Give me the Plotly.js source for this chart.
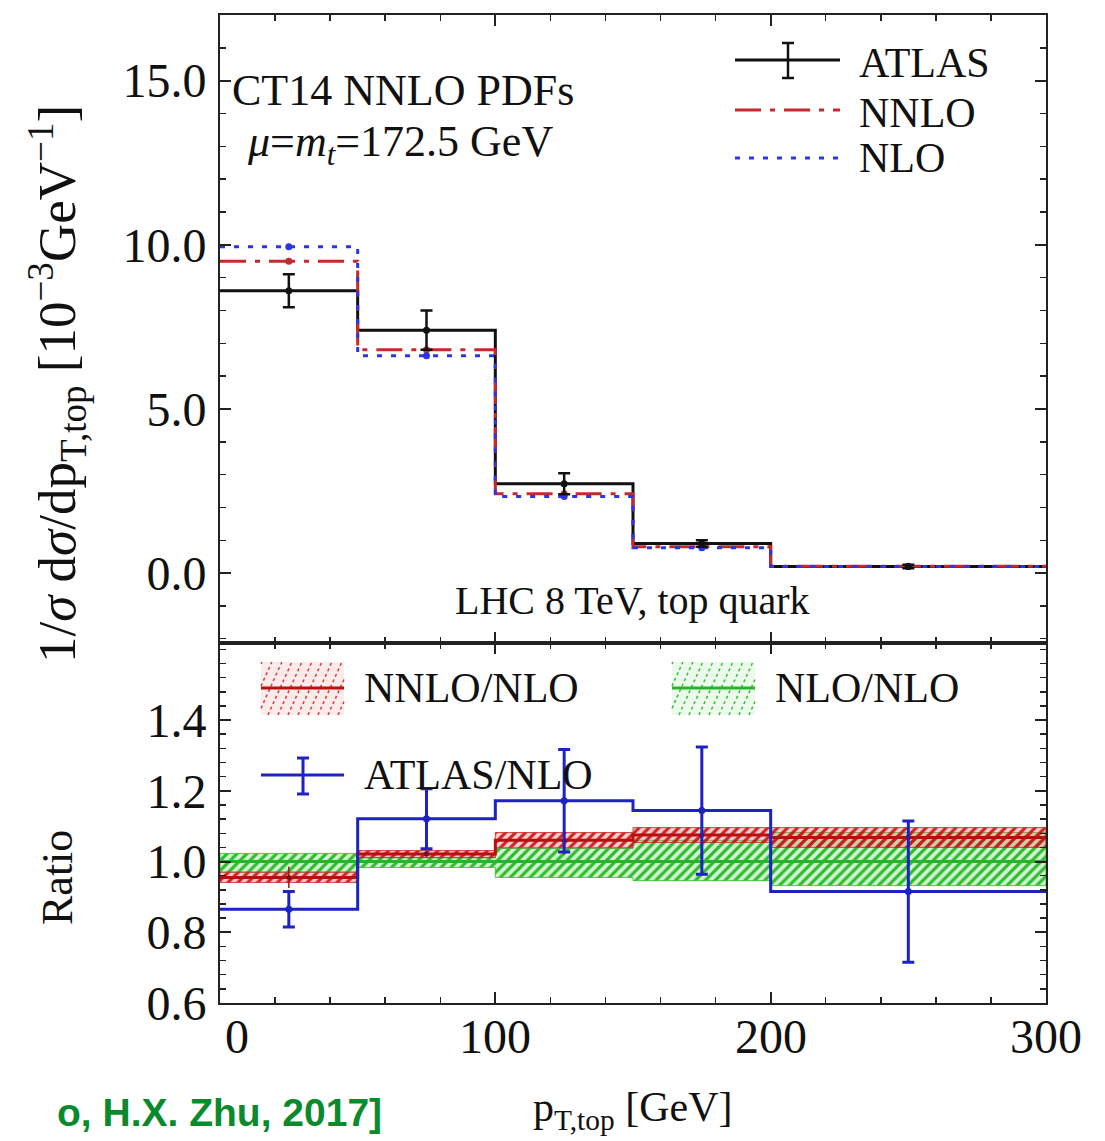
<!DOCTYPE html>
<html>
<head>
<meta charset="utf-8">
<script src="https://cdn.plot.ly/plotly-3.0.1.min.js"></script>
<style>html,body{margin:0;padding:0;background:#fff}#chart{width:1105px;height:1141px}</style>
</head>
<body>
<div id="chart"></div>
<script>
// ---- data ----
const binEdges = [0, 50, 100, 150, 200, 300];
const binMids = [25, 75, 125, 175, 250];
const atlas = [8.6, 7.4, 2.72, 0.9, 0.2];
const atlasErr = [0.5, 0.6, 0.32, 0.1, 0.05];
const nnlo = [9.5, 6.8, 2.42, 0.8, 0.21];
const nlo = [9.94, 6.62, 2.33, 0.77, 0.2];

const ratioNNLO = [0.955, 1.021, 1.06, 1.075, 1.068];
const ratioNNLOErr = [0.03, 0.01, 0.04, 0.015, 0.02];
const ratioNNLOLo = [0.941, 1.011, 1.039, 1.054, 1.04];
const ratioNNLOHi = [0.970, 1.031, 1.082, 1.096, 1.096];
const ratioNLO = [1.0, 1.0, 1.0, 1.0, 1.0];
const ratioNLOLo = [0.970, 0.983, 0.955, 0.946, 0.932];
const ratioNLOHi = [1.023, 1.011, 1.037, 1.060, 1.082];
const ratioATLAS = [0.865, 1.121, 1.172, 1.144, 0.915];
const ratioATLASErr = [0.05, 0.085, 0.145, 0.18, 0.2];

const yTicksTop = [0, 5, 10, 15];
const yTicksRatio = [0.6, 0.8, 1.0, 1.2, 1.4];
const xTicks = [0, 100, 200, 300];
const xTickText = ['0', '100', '200', '300'];

// ---- helpers ----
function stepY(v) { return v.concat([v[v.length - 1]]); }
function bandPoly(lo, hi) {
  const xs = [], ys = [];
  for (let i = 0; i < hi.length; i++) { xs.push(binEdges[i], binEdges[i + 1]); ys.push(hi[i], hi[i]); }
  for (let i = lo.length - 1; i >= 0; i--) { xs.push(binEdges[i + 1], binEdges[i]); ys.push(lo[i], lo[i]); }
  xs.push(xs[0]); ys.push(ys[0]);
  return {x: xs, y: ys};
}
// pixel -> paper (plot area: x 220..1046, y 15..1003)
const L = 220, R = 1046, T = 15, B = 1003;
function px(x) { return (x - L) / (R - L); }
function py(y) { return (B - y) / (B - T); }

const serif = 'Liberation Serif, Times New Roman, serif';
const RED = '#c8282d', BLUE = '#2a35e8', BLK = '#111111';
const DRED = '#b80f0f', GREEN = '#28b428', ABLUE = '#1c22c4';

const nnloBand = bandPoly(ratioNNLOLo, ratioNNLOHi);
const nloBand = bandPoly(ratioNLOLo, ratioNLOHi);

const traces = [
  // ---- top panel ----
  {x: binEdges, y: stepY(atlas), xaxis: 'x2', yaxis: 'y2', mode: 'lines',
   line: {shape: 'hv', color: BLK, width: 3}, hoverinfo: 'skip'},
  {x: binEdges, y: stepY(nnlo), xaxis: 'x2', yaxis: 'y2', mode: 'lines',
   line: {shape: 'hv', color: RED, width: 3, dash: '26px,9px,5px,9px'}, hoverinfo: 'skip'},
  {x: binEdges, y: stepY(nlo), xaxis: 'x2', yaxis: 'y2', mode: 'lines',
   line: {shape: 'hv', color: BLUE, width: 3, dash: '5px,9px'}, hoverinfo: 'skip'},
  {x: binMids, y: nnlo, xaxis: 'x2', yaxis: 'y2', mode: 'markers',
   marker: {color: RED, size: 7}},
  {x: binMids, y: nlo, xaxis: 'x2', yaxis: 'y2', mode: 'markers',
   marker: {color: BLUE, size: 7}},
  {x: binMids, y: atlas, xaxis: 'x2', yaxis: 'y2', mode: 'markers',
   marker: {color: BLK, size: 7},
   error_y: {type: 'data', array: atlasErr, color: BLK, thickness: 2.5, width: 6}},
  // ---- ratio panel ----
  {x: nloBand.x, y: nloBand.y, xaxis: 'x', yaxis: 'y', mode: 'lines', fill: 'toself',
   line: {color: 'rgba(40,190,40,0.8)', width: 1},
   fillcolor: 'rgba(60,200,60,0.35)',
   fillpattern: {shape: '/', fgcolor: 'rgba(30,180,30,0.9)', bgcolor: 'rgba(120,220,120,0.35)', size: 7, solidity: 0.45},
   hoverinfo: 'skip'},
  {x: nnloBand.x, y: nnloBand.y, xaxis: 'x', yaxis: 'y', mode: 'lines', fill: 'toself',
   line: {color: 'rgba(200,30,30,0.8)', width: 1},
   fillcolor: 'rgba(210,40,40,0.35)',
   fillpattern: {shape: '/', fgcolor: 'rgba(200,20,20,0.9)', bgcolor: 'rgba(230,110,110,0.35)', size: 7, solidity: 0.45},
   hoverinfo: 'skip'},
  {x: binEdges, y: stepY(ratioNLO), xaxis: 'x', yaxis: 'y', mode: 'lines',
   line: {shape: 'hv', color: GREEN, width: 3}, hoverinfo: 'skip'},
  {x: binEdges, y: stepY(ratioNNLO), xaxis: 'x', yaxis: 'y', mode: 'lines',
   line: {shape: 'hv', color: DRED, width: 3}, hoverinfo: 'skip'},
  {x: binMids, y: ratioNNLO, xaxis: 'x', yaxis: 'y', mode: 'markers',
   marker: {color: '#7a1010', size: 5},
   error_y: {type: 'data', array: ratioNNLOErr, color: '#a01515', thickness: 1.5, width: 0}},
  {x: binEdges, y: stepY(ratioATLAS), xaxis: 'x', yaxis: 'y', mode: 'lines',
   line: {shape: 'hv', color: ABLUE, width: 3}, hoverinfo: 'skip'},
  {x: binMids, y: ratioATLAS, xaxis: 'x', yaxis: 'y', mode: 'markers',
   marker: {color: ABLUE, size: 7},
   error_y: {type: 'data', array: ratioATLASErr, color: ABLUE, thickness: 3, width: 6}}
];

const axisCommon = {
  showline: true, linecolor: '#222', linewidth: 2, mirror: 'ticks',
  ticks: 'inside', ticklen: 11, tickwidth: 2, tickcolor: '#222',
  showgrid: false, zeroline: false,
  tickfont: {family: serif, size: 48, color: '#111'}
};

const shapes = [];
const annotations = [];
function hline(x0, x1, y, color, width, dash) {
  shapes.push({type: 'line', xref: 'paper', yref: 'paper', x0: px(x0), x1: px(x1), y0: py(y), y1: py(y),
    line: {color: color, width: width, dash: dash || 'solid'}});
}
function vline(x, y0, y1, color, width) {
  shapes.push({type: 'line', xref: 'paper', yref: 'paper', x0: px(x), x1: px(x), y0: py(y0), y1: py(y1),
    line: {color: color, width: width}});
}
function text(str, x, y, size, xanchor, opts) {
  annotations.push(Object.assign({text: str, xref: 'paper', yref: 'paper', x: px(x), y: py(y),
    xanchor: xanchor || 'left', yanchor: 'middle', showarrow: false,
    font: {family: serif, size: size, color: '#111'}}, opts || {}));
}
function hatchPatch(x0, x1, y0, y1, color, bg) {
  shapes.push({type: 'rect', xref: 'paper', yref: 'paper', x0: px(x0), x1: px(x1), y0: py(y0), y1: py(y1),
    fillcolor: bg, line: {width: 0}});
  const h = y1 - y0;
  for (let s = x0 - h; s < x1; s += 10) {
    let ax = s, ay = y1, bx = s + h * 0.45, by = y0;
    if (ax < x0) { ay = y1 - (x0 - ax) / 0.45; ax = x0; }
    if (bx > x1) { by = y0 + (bx - x1) / 0.45; bx = x1; }
    if (ay <= y0 || by >= y1) continue;
    shapes.push({type: 'line', xref: 'paper', yref: 'paper', x0: px(ax), y0: py(ay), x1: px(bx), y1: py(by),
      line: {color: color, width: 1.5, dash: '3px,3px'}});
  }
}

// x tick labels (placed on the x axis scale; the first one nudged right as in the original)
xTicks.forEach(function (v, i) {
  annotations.push({text: xTickText[i], xref: 'x', yref: 'paper', x: v, y: py(1036),
    xanchor: 'center', yanchor: 'middle', showarrow: false, xshift: i === 0 ? 17 : 0,
    font: {family: serif, size: 48, color: '#111'}});
});

// top legend
hline(735, 840, 60, BLK, 3);
vline(788, 43, 78, BLK, 2.5);
hline(782, 794, 43, BLK, 2.5);
hline(782, 794, 78, BLK, 2.5);
hline(735, 840, 110, RED, 3, '26px,9px,5px,9px');
hline(735, 840, 158, BLUE, 3, '5px,9px');
text('ATLAS', 857, 63, 42);
text('NNLO', 857, 113, 42);
text('NLO', 857, 158, 42);

// bottom legend
hatchPatch(261, 344, 662, 715, 'rgba(210,40,40,0.9)', 'rgba(230,120,120,0.15)');
hline(261, 344, 688, DRED, 3);
text('NNLO/NLO', 362, 688, 42);
hatchPatch(672, 755, 662, 715, 'rgba(40,180,40,0.9)', 'rgba(120,220,120,0.15)');
hline(672, 755, 688, GREEN, 3);
text('NLO/NLO', 773, 688, 42);
hline(261, 344, 775, ABLUE, 3);
vline(303, 758, 794, ABLUE, 3);
hline(297, 309, 758, ABLUE, 3);
hline(297, 309, 794, ABLUE, 3);
text('ATLAS/NLO', 362, 775, 42);

// panel labels
text('CT14 NNLO PDFs', 230, 91, 44);
text('<i>μ</i>=<i>m<sub>t</sub></i>=172.5 GeV', 245, 145, 44);
text('LHC 8 TeV, top quark', 632, 600, 40, 'center');

// axis titles
text('1/<i>σ</i> d<i>σ</i>/dp<sub>T,top</sub> [10<sup>−3</sup>GeV<sup>−1</sup>]', 57, 384, 53, 'center', {textangle: -90});
text('Ratio', 57, 878, 44, 'center', {textangle: -90});
text('p<sub>T,top</sub> [GeV]', 632, 1110, 42, 'center');
text('o, H.X. Zhu, 2017]', 384, 1112, 39, 'right',
  {font: {family: 'Liberation Sans, Arial, sans-serif', size: 39, color: '#0b8a2d', weight: 'bold'}});

const splitFrac = (B - 643) / (B - T);

const layout = {
  width: 1105, height: 1141,
  margin: {l: L, r: 1105 - R, t: T, b: 1141 - B, pad: 0},
  paper_bgcolor: '#fff', plot_bgcolor: '#fff',
  showlegend: false,
  xaxis: Object.assign({}, axisCommon, {
    domain: [0, 1], anchor: 'y', range: [0, 300], tickmode: 'array', tickvals: xTicks,
    showticklabels: false,
    minor: {dtick: 20, tick0: 0, ticklen: 6, tickwidth: 1.5, tickcolor: '#222', ticks: 'inside'}
  }),
  xaxis2: Object.assign({}, axisCommon, {
    domain: [0, 1], anchor: 'y2', matches: 'x', range: [0, 300], tickmode: 'array', tickvals: xTicks,
    showticklabels: false,
    minor: {dtick: 20, tick0: 0, ticklen: 6, tickwidth: 1.5, tickcolor: '#222', ticks: 'inside'}
  }),
  yaxis: Object.assign({}, axisCommon, {
    domain: [0, splitFrac], anchor: 'x', range: [0.6, 1.618], tickmode: 'array', tickvals: yTicksRatio,
    ticktext: yTicksRatio.map(v => v.toFixed(1)), ticklabelstandoff: 2,
    minor: {dtick: 0.04, tick0: 0.6, ticklen: 6, tickwidth: 1.5, tickcolor: '#222', ticks: 'inside'}
  }),
  yaxis2: Object.assign({}, axisCommon, {
    domain: [splitFrac, 1], anchor: 'x2', range: [-2.13, 17.0], tickmode: 'array', tickvals: yTicksTop,
    ticktext: yTicksTop.map(v => v.toFixed(1)), ticklabelstandoff: 2,
    minor: {dtick: 1, tick0: 0, ticklen: 6, tickwidth: 1.5, tickcolor: '#222', ticks: 'inside'}
  }),
  shapes: shapes,
  annotations: annotations
};

Plotly.newPlot('chart', traces, layout, {staticPlot: true, displayModeBar: false});
</script>
</body>
</html>
